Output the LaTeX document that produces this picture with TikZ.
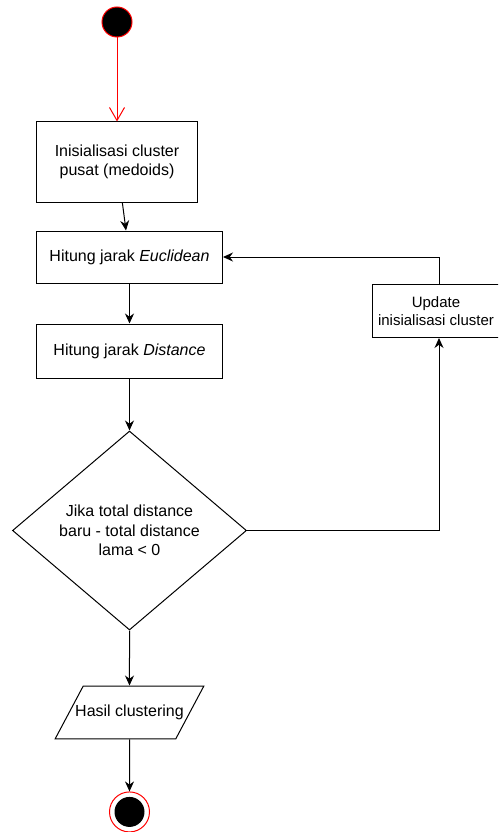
\documentclass[tikz,border=0pt]{standalone}
\usepackage{fontspec}
\setmainfont{Liberation Sans}
\usepackage{tikz}
\usetikzlibrary{shapes.geometric,arrows.meta,positioning}

\begin{document}
\begin{tikzpicture}[
        x=1pt, y=-1pt,
        font=\fontsize{16}{19.5}\selectfont,
        process/.style={rectangle, draw=black, fill=white, line width=1pt, align=center, inner sep=0pt},
        decision/.style={diamond, draw=black, fill=white, line width=1pt, align=center, aspect=1.18, inner sep=0pt, minimum width=234pt, minimum height=199pt},
        data/.style={trapezium, trapezium left angle=62, trapezium right angle=118, draw=black, fill=white, line width=1pt, align=center, inner xsep=-8pt, inner ysep=19pt},
        startnode/.style={circle, draw=red, fill=black, line width=1pt, minimum size=30pt, inner sep=0pt},
        stopnode/.style={circle, draw=red, fill=white, line width=1pt, minimum size=40pt, inner sep=0pt},
        arrow/.style={-{Stealth[length=10pt, width=9pt]}, line width=1pt},
        startarrow/.style={-{Straight Barb[length=13pt, width=15pt]}, line width=1pt, red}
    ]
        \clip (0,0) rectangle (498,832);

        % Nodes
        \node[startnode] (start) at (117,22) {};
        \node[process, minimum width=161pt, minimum height=80pt, below=84pt of start] (init) {Inisialisasi cluster\\pusat (medoids)};
        \node[process, minimum width=186pt, minimum height=52pt, below=28pt of init, xshift=12.5pt] (euclid) {Hitung jarak \textit{Euclidean}};
        \node[process, minimum width=186pt, minimum height=54pt, below=40pt of euclid] (dist) {Hitung jarak \textit{Distance}};
        \node[decision, below=52pt of dist] (cond) {Jika total distance\\baru - total distance\\lama {\char`<} 0};
        \node[data, below=55pt of cond] (result) {Hasil clustering};
        \node[stopnode, below=52pt of result] (stop) {};
        \node[circle, fill=black, minimum size=30pt, inner sep=0pt] (stopdot) at (stop) {};
        \node[process, minimum width=134pt, minimum height=53pt,
              label={[align=center, xshift=-3pt, font=\fontsize{15}{18.5}\selectfont]center:Update\\inisialisasi cluster}] (update) at (439,311) {};

        % Arrows
        \draw[startarrow] (start) -- (init);
        \draw[arrow] (init) -- (euclid);
        \draw[arrow] (euclid) -- (dist);
        \draw[arrow] (dist) -- (cond);
        \draw[arrow] (cond) -- (result);
        \draw[arrow] (result) -- (stop);

        % Loop back
        \draw[arrow] (cond.east) -| (update.south);
        \draw[arrow] (update.north) |- (euclid.east);

    \end{tikzpicture}
\end{document}
